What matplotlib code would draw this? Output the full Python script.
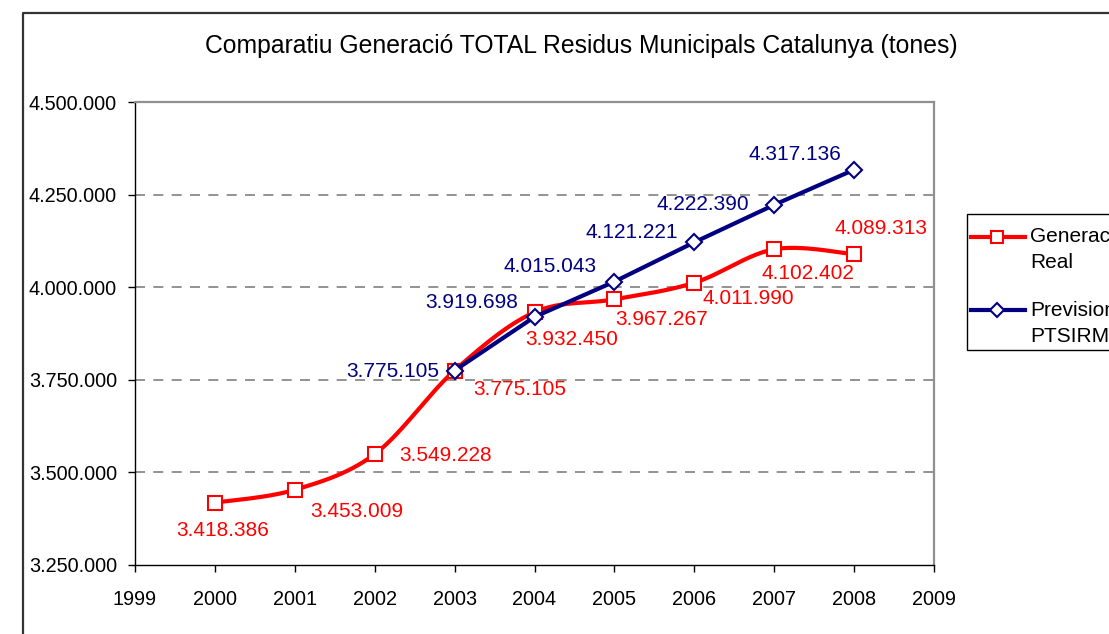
import numpy as np
import matplotlib
matplotlib.use("Agg")
import matplotlib.pyplot as plt
from matplotlib.lines import Line2D
from matplotlib.patches import Rectangle
from matplotlib.ticker import FuncFormatter

plt.rcParams['font.family'] = ['Liberation Sans', 'DejaVu Sans']

# --- data -------------------------------------------------------------
years_real = [2000, 2001, 2002, 2003, 2004, 2005, 2006, 2007, 2008]
real = [3418386, 3453009, 3549228, 3775105, 3932450, 3967267, 4011990, 4102402, 4089313]

years_prev = [2003, 2004, 2005, 2006, 2007, 2008]
prev = [3775105, 3919698, 4015043, 4121221, 4222390, 4317136]

title = "Comparatiu Generació TOTAL Residus Municipals Catalunya (tones)"
legend_real = ["Generació", "Real"]
legend_prev = ["Previsions", "PTSIRM"]

RED = "#FF0000"
NAVY = "#000080"


def fmt_thousands(v):
    return f"{int(round(v)):,}".replace(",", ".")


def smooth_curve(xs, ys, n=30):
    """Bezier smoothing through the points (spreadsheet-style smoothed line)."""
    pts = np.column_stack([np.asarray(xs, float), np.asarray(ys, float)])
    out = [pts[0]]
    t = np.linspace(0, 1, n)[1:, None]
    for i in range(len(pts) - 1):
        p0 = pts[i - 1] if i > 0 else pts[i]
        p1 = pts[i]
        p2 = pts[i + 1]
        p3 = pts[i + 2] if i + 2 < len(pts) else pts[i + 1]
        c1 = p1 + (p2 - p0) / 6.0
        c2 = p2 - (p3 - p1) / 6.0
        seg = ((1 - t) ** 3) * p1 + 3 * ((1 - t) ** 2) * t * c1 \
            + 3 * (1 - t) * t ** 2 * c2 + t ** 3 * p2
        out.extend(seg)
    out = np.array(out)
    return out[:, 0], out[:, 1]


W, H = 1109, 634
fig = plt.figure(figsize=(W / 100, H / 100), dpi=100)


def fx(px):
    return px / W


def fy(py):
    return 1 - py / H


# outer chart frame (left and top edges)
fig.add_artist(Line2D([fx(22.5), fx(22.5), 1.2], [-0.1, fy(12.5), fy(12.5)],
                      transform=fig.transFigure, color="#333333", lw=1.6))

ax = fig.add_axes([fx(135), fy(565), fx(934) - fx(135), fy(102) - fy(565)])
ax.set_xlim(1999, 2009)
ax.set_ylim(3250000, 4500000)

ax.set_xticks(range(1999, 2010))
ax.set_yticks([3250000, 3500000, 3750000, 4000000, 4250000, 4500000])
ax.yaxis.set_major_formatter(FuncFormatter(lambda v, p: fmt_thousands(v)))

for g in [3500000, 3750000, 4000000, 4250000]:
    ax.axhline(g, color="#808080", lw=1.2, dashes=(6, 5), zorder=1)

for side in ("top", "right"):
    ax.spines[side].set_color("#909090")
    ax.spines[side].set_linewidth(1.6)
for side in ("left", "bottom"):
    ax.spines[side].set_color("black")
    ax.spines[side].set_linewidth(1.0)

ax.tick_params(axis="both", direction="out", length=5, width=1, color="black",
               labelsize=14.3)
ax.tick_params(axis="x", pad=13)
ax.tick_params(axis="y", pad=8)

# Generació real: smoothed line with square markers
sx, sy = smooth_curve(years_real, real)
ax.plot(sx, sy, color=RED, lw=3.0, zorder=3, solid_capstyle="round")
ax.plot(years_real, real, ls="none", marker="s", markersize=10.5,
        markerfacecolor="white", markeredgecolor=RED, markeredgewidth=1.5, zorder=4)

# Previsions PTSIRM: straight line with diamond markers
ax.plot(years_prev, prev, color=NAVY, lw=3.0, marker="D", markersize=8.5,
        markerfacecolor="white", markeredgecolor=NAVY, markeredgewidth=1.5, zorder=5)

# data labels (pixel offsets from each point)
off_real = [(8, -28), (62, -22), (71, -1), (65, -19), (37, -27),
            (47, -20), (54, -16), (34, -24), (27, 26)]
off_prev = [(-62, -1), (-63, 14), (-64, 15), (-63, 10), (-71, 0), (-59, 15)]

for x, v, o in zip(years_real, real, off_real):
    ax.annotate(fmt_thousands(v), (x, v), xytext=o, textcoords="offset pixels",
                ha="center", va="center", color=RED, fontsize=15, zorder=6)
for x, v, o in zip(years_prev, prev, off_prev):
    ax.annotate(fmt_thousands(v), (x, v), xytext=o, textcoords="offset pixels",
                ha="center", va="center", color=NAVY, fontsize=15, zorder=6)

fig.text(fx(581), fy(46), title, ha="center", va="center", fontsize=17.8)

# legend box (runs past the right edge of the figure)
fig.add_artist(Rectangle((fx(967), fy(350)), 0.3, fy(214) - fy(350),
                         transform=fig.transFigure, facecolor="white",
                         edgecolor="black", lw=1.0))
legend_rows = [
    (RED, "s", 9, 237, legend_real, (236, 263)),
    (NAVY, "D", 7, 310, legend_prev, (310, 337)),
]
for color, mk, ms, ly, lines, tys in legend_rows:
    fig.add_artist(Line2D([fx(971), fx(1025)], [fy(ly), fy(ly)],
                          transform=fig.transFigure, color=color, lw=3))
    fig.add_artist(Line2D([fx(997)], [fy(ly)], transform=fig.transFigure,
                          ls="none", marker=mk, markersize=ms,
                          markerfacecolor="white", markeredgecolor=color,
                          markeredgewidth=1.5))
    for txt, ty in zip(lines, tys):
        fig.text(fx(1030), fy(ty), txt, ha="left", va="center", fontsize=15)

fig.savefig("out.png", dpi=100)
